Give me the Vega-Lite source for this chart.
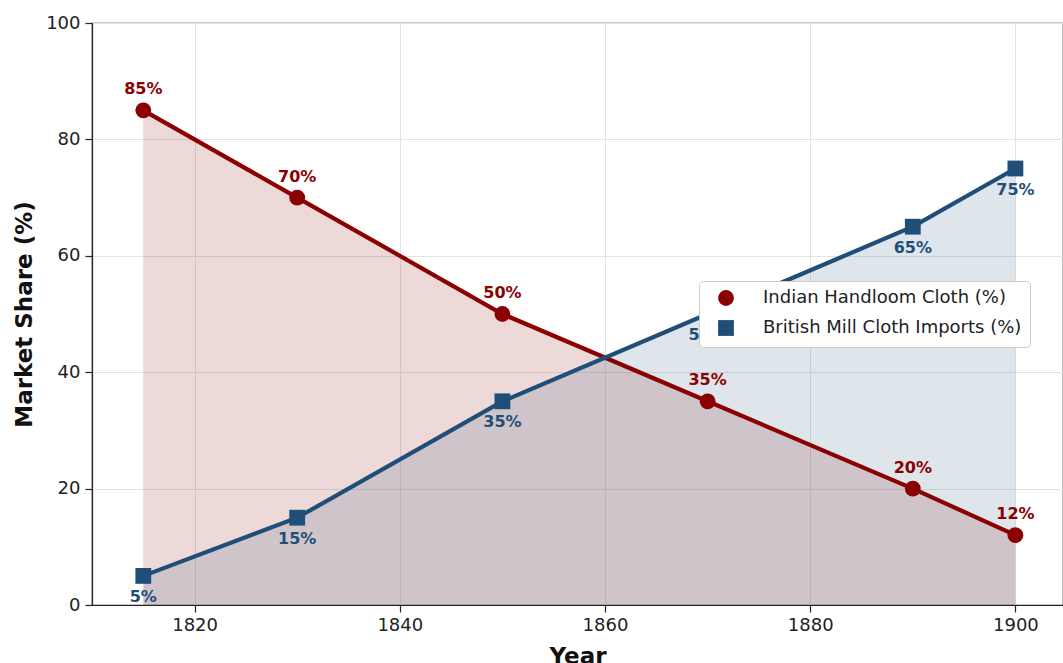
{
  "$schema": "https://vega.github.io/schema/vega-lite/v6.json",
  "autosize": "none",
  "width": 971,
  "height": 582,
  "padding": {"left": 92, "top": 23, "right": 0, "bottom": 58},
  "background": "white",
  "config": {
    "font": "DejaVu Sans",
    "view": {"stroke": "#222", "strokeWidth": 1.2},
    "axis": {
      "labelFont": "DejaVu Sans",
      "titleFont": "DejaVu Sans",
      "labelFontSize": 18,
      "titleFontSize": 23,
      "titleFontWeight": "bold",
      "labelColor": "#222",
      "titleColor": "#111",
      "domainColor": "#222",
      "domainWidth": 1.2,
      "tickColor": "#222",
      "tickSize": 7,
      "tickWidth": 1.2,
      "gridColor": "#e3e3e3",
      "gridWidth": 1
    }
  },
  "data": {
    "values": [
      {"year": 1815, "series": "Indian Handloom Cloth (%)", "value": 85, "label": "85%"},
      {"year": 1830, "series": "Indian Handloom Cloth (%)", "value": 70, "label": "70%"},
      {"year": 1850, "series": "Indian Handloom Cloth (%)", "value": 50, "label": "50%"},
      {"year": 1870, "series": "Indian Handloom Cloth (%)", "value": 35, "label": "35%"},
      {"year": 1890, "series": "Indian Handloom Cloth (%)", "value": 20, "label": "20%"},
      {"year": 1900, "series": "Indian Handloom Cloth (%)", "value": 12, "label": "12%"},
      {"year": 1815, "series": "British Mill Cloth Imports (%)", "value": 5, "label": "5%"},
      {"year": 1830, "series": "British Mill Cloth Imports (%)", "value": 15, "label": "15%"},
      {"year": 1850, "series": "British Mill Cloth Imports (%)", "value": 35, "label": "35%"},
      {"year": 1870, "series": "British Mill Cloth Imports (%)", "value": 50, "label": "50%"},
      {"year": 1890, "series": "British Mill Cloth Imports (%)", "value": 65, "label": "65%"},
      {"year": 1900, "series": "British Mill Cloth Imports (%)", "value": 75, "label": "75%"}
    ]
  },
  "encoding": {
    "x": {
      "field": "year", "type": "quantitative",
      "scale": {"domain": [1810, 1904.64], "nice": false, "zero": false},
      "axis": {"title": "Year", "values": [1820, 1840, 1860, 1880, 1900], "format": "d", "labelPadding": 4, "titlePadding": 11}
    },
    "y": {
      "field": "value", "type": "quantitative",
      "scale": {"domain": [0, 100], "nice": false},
      "axis": {"title": "Market Share (%)", "values": [0, 20, 40, 60, 80, 100], "labelPadding": 5, "titlePadding": 9}
    }
  },
  "layer": [
    {
      "transform": [{"filter": "datum.series === 'Indian Handloom Cloth (%)'"}],
      "mark": {"type": "area", "opacity": 0.15, "color": "#8B0000"},
      "encoding": {"y": {"field": "value", "type": "quantitative", "stack": null}}
    },
    {
      "transform": [{"filter": "datum.series === 'British Mill Cloth Imports (%)'"}],
      "mark": {"type": "area", "opacity": 0.15, "color": "#1F4E79"},
      "encoding": {"y": {"field": "value", "type": "quantitative", "stack": null}}
    },
    {
      "transform": [{"filter": "datum.series === 'Indian Handloom Cloth (%)'"}],
      "mark": {"type": "line", "strokeWidth": 4.2, "color": "#8B0000"},
      "encoding": {"order": {"field": "year"}}
    },
    {
      "transform": [{"filter": "datum.series === 'British Mill Cloth Imports (%)'"}],
      "mark": {"type": "line", "strokeWidth": 4.2, "color": "#1F4E79"},
      "encoding": {"order": {"field": "year"}}
    },
    {
      "mark": {"type": "point", "filled": true, "opacity": 1, "size": 250},
      "encoding": {
        "color": {
          "field": "series", "type": "nominal",
          "scale": {"domain": ["Indian Handloom Cloth (%)", "British Mill Cloth Imports (%)"], "range": ["#8B0000", "#1F4E79"]},
          "legend": {
            "title": null,
            "orient": "none",
            "legendX": 607,
            "legendY": 258,
            "fillColor": "white",
            "strokeColor": "#cccccc",
            "cornerRadius": 4,
            "padding": 8,
            "labelFontSize": 18,
            "labelFont": "DejaVu Sans",
            "labelColor": "#222",
            "labelLimit": 400,
            "symbolSize": 250,
            "symbolOpacity": 1,
            "labelOffset": 28,
            "rowPadding": 8,
            "symbolOffset": 10
          }
        },
        "shape": {
          "field": "series", "type": "nominal",
          "scale": {"domain": ["Indian Handloom Cloth (%)", "British Mill Cloth Imports (%)"], "range": ["circle", "square"]},
          "legend": {
            "title": null,
            "orient": "none",
            "legendX": 607,
            "legendY": 258,
            "fillColor": "white",
            "strokeColor": "#cccccc",
            "cornerRadius": 4,
            "padding": 8,
            "labelFontSize": 18,
            "labelFont": "DejaVu Sans",
            "labelColor": "#222",
            "labelLimit": 400,
            "symbolSize": 250,
            "symbolOpacity": 1,
            "labelOffset": 28,
            "rowPadding": 8,
            "symbolOffset": 10
          }
        }
      }
    },
    {
      "transform": [{"filter": "datum.series === 'Indian Handloom Cloth (%)'"}],
      "mark": {"type": "text", "fontWeight": "bold", "fontSize": 16, "dy": -21, "baseline": "middle", "color": "#8B0000"},
      "encoding": {"text": {"field": "label"}}
    },
    {
      "transform": [{"filter": "datum.series === 'British Mill Cloth Imports (%)'"}],
      "mark": {"type": "text", "fontWeight": "bold", "fontSize": 16, "dy": 21, "baseline": "middle", "color": "#1F4E79"},
      "encoding": {"text": {"field": "label"}}
    }
  ]
}
